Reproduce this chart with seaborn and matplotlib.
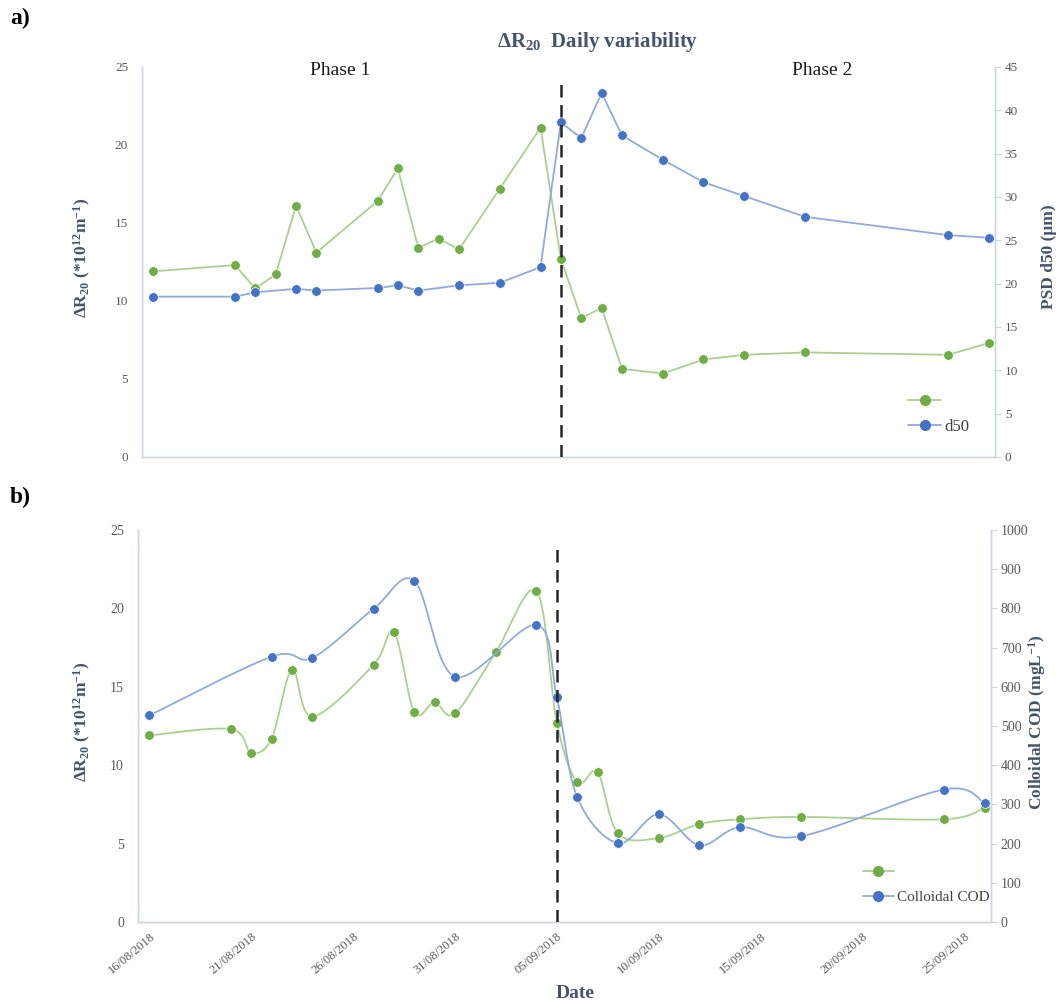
import numpy as np
import pandas as pd
import matplotlib
matplotlib.use("Agg")
import matplotlib.pyplot as plt
from matplotlib.lines import Line2D
import seaborn as sns

# ---------------------------------------------------------------- data
start_date = "2018-08-16"

r20_dates = ["2018-08-16", "2018-08-20", "2018-08-21", "2018-08-22", "2018-08-23",
             "2018-08-24", "2018-08-27", "2018-08-28", "2018-08-29", "2018-08-30",
             "2018-08-31", "2018-09-02", "2018-09-04", "2018-09-05", "2018-09-06",
             "2018-09-07", "2018-09-08", "2018-09-10", "2018-09-12", "2018-09-14",
             "2018-09-17", "2018-09-24", "2018-09-26"]
delta_r20 = [11.9, 12.3, 10.8, 11.7, 16.1, 13.1, 16.4, 18.5, 13.4, 14.0, 13.3, 17.2,
             21.1, 12.7, 8.9, 9.55, 5.65, 5.35, 6.25, 6.55, 6.7, 6.55, 7.3]

d50_dates = ["2018-08-16", "2018-08-20", "2018-08-21", "2018-08-23", "2018-08-24",
             "2018-08-27", "2018-08-28", "2018-08-29", "2018-08-31", "2018-09-02",
             "2018-09-04", "2018-09-05", "2018-09-06", "2018-09-07", "2018-09-08",
             "2018-09-10", "2018-09-12", "2018-09-14", "2018-09-17", "2018-09-24",
             "2018-09-26"]
d50 = [18.5, 18.5, 19.0, 19.4, 19.2, 19.5, 19.8, 19.2, 19.8, 20.1, 21.9,
       38.6, 36.8, 42.0, 37.1, 34.3, 31.7, 30.1, 27.7, 25.6, 25.3]

cod_dates = ["2018-08-16", "2018-08-22", "2018-08-24", "2018-08-27", "2018-08-29",
             "2018-08-31", "2018-09-04", "2018-09-05", "2018-09-06", "2018-09-08",
             "2018-09-10", "2018-09-12", "2018-09-14", "2018-09-17", "2018-09-24",
             "2018-09-26"]
colloidal_cod = [527, 677, 674, 799, 870, 626, 758, 573, 318, 201, 275, 196, 242,
                 219, 338, 303]

phase_change = "2018-09-05"
tick_dates = ["16/08/2018", "21/08/2018", "26/08/2018", "31/08/2018", "05/09/2018",
              "10/09/2018", "15/09/2018", "20/09/2018", "25/09/2018"]

# ---------------------------------------------------------------- helpers
t0 = pd.Timestamp(start_date)


def to_days(dates, fmt=None):
    return np.array([(pd.to_datetime(d, format=fmt) - t0).days for d in dates], float)


def smooth_curve(x, y, n=30):
    """Spreadsheet-style smoothed line: cubic Bezier segments through the points."""
    x = np.asarray(x, float)
    y = np.asarray(y, float)
    P = np.column_stack([x, y])
    P = np.vstack([P[0], P, P[-1]])
    t = np.linspace(0, 1, n)[:, None]
    out = []
    for i in range(1, len(P) - 2):
        p0, p1, p2, p3 = P[i - 1], P[i], P[i + 1], P[i + 2]
        c1 = p1 + (p2 - p0) / 6.0
        c2 = p2 - (p3 - p1) / 6.0
        seg = ((1 - t) ** 3) * p1 + 3 * ((1 - t) ** 2) * t * c1 + 3 * (1 - t) * t ** 2 * c2 + t ** 3 * p2
        out.append(seg if i == 1 else seg[1:])
    out = np.vstack(out)
    return out[:, 0], out[:, 1]


x_r20 = to_days(r20_dates)
x_d50 = to_days(d50_dates)
x_cod = to_days(cod_dates)
x_phase = to_days([phase_change])[0]
x_ticks = to_days(tick_dates, fmt="%d/%m/%Y")

# ---------------------------------------------------------------- style
sns.set_theme(style="white")
plt.rcParams["font.family"] = ["Liberation Serif", "DejaVu Serif"]
plt.rcParams["mathtext.fontset"] = "custom"
plt.rcParams["mathtext.rm"] = "Liberation Serif"
plt.rcParams["mathtext.it"] = "Liberation Serif:italic"
plt.rcParams["mathtext.bf"] = "Liberation Serif:bold"
plt.rcParams["mathtext.default"] = "regular"

GREEN = "#70AD47"
GREEN_LINE = "#A9D18E"
BLUE = "#4472C4"
BLUE_LINE = "#8FAADC"
SPINE = "#CDD5E0"
TICK = "#595959"
LABEL = "#44546A"

fig = plt.figure(figsize=(10.59, 10.07), dpi=100)
ax_a = fig.add_axes([0.1341, 0.5462, 0.8055, 0.3873])
ax_b = fig.add_axes([0.1303, 0.0844, 0.8055, 0.3893])
xlim = (-0.56, 41.31)


def style_axes(ax, ax2, ymax2, step2, size):
    ax.set_xlim(*xlim)
    ax.set_ylim(0, 25)
    ax.set_yticks(np.arange(0, 26, 5))
    ax2.set_ylim(0, ymax2)
    ax2.set_yticks(np.arange(0, ymax2 + 0.1, step2))
    for a in (ax, ax2):
        a.spines["top"].set_visible(False)
        for side in ("left", "right", "bottom"):
            a.spines[side].set_color(SPINE)
            a.spines[side].set_linewidth(1.0)
        a.grid(False)
    ax.tick_params(axis="y", length=0, pad=10, labelsize=size, labelcolor=TICK)
    ax2.tick_params(axis="y", length=4, width=0.8, color=SPINE, pad=3,
                    labelsize=size, labelcolor=TICK)
    ax.set_ylabel("")
    ax2.set_ylabel("")
    ax.set_xlabel("")


def draw_points(ax, x, y, color):
    sns.scatterplot(x=x, y=y, ax=ax, color=color, s=48, edgecolor="white",
                    linewidth=0.5, zorder=5, legend=False)


def legend_handles():
    return [Line2D([], [], color=GREEN_LINE, marker="o", markerfacecolor=GREEN,
                   markeredgecolor=GREEN, markersize=7, linewidth=1.3),
            Line2D([], [], color=BLUE_LINE, marker="o", markerfacecolor=BLUE,
                   markeredgecolor=BLUE, markersize=7, linewidth=1.3)]


# ---------------------------------------------------------------- panel a
ax_a2 = ax_a.twinx()
sns.lineplot(x=x_r20, y=delta_r20, ax=ax_a, color=GREEN_LINE, linewidth=1.3,
             estimator=None, sort=False, zorder=3)
draw_points(ax_a, x_r20, delta_r20, GREEN)
sns.lineplot(x=x_d50, y=d50, ax=ax_a2, color=BLUE_LINE, linewidth=1.3,
             estimator=None, sort=False, zorder=3)
draw_points(ax_a2, x_d50, d50, BLUE)
ax_a2.axvline(x_phase, ymin=0, ymax=0.96, color="#262626", linestyle=(0, (5, 3)),
              linewidth=1.8, zorder=6)
style_axes(ax_a, ax_a2, 45, 5, 9.5)
ax_a.set_xticks([])
ax_a2.set_xlim(*xlim)

ax_a.text(0.232, 0.99, "Phase 1", transform=ax_a.transAxes, ha="center", va="center",
          fontsize=14, color="#1a1a1a")
ax_a.text(0.797, 0.99, "Phase 2", transform=ax_a.transAxes, ha="center", va="center",
          fontsize=14, color="#1a1a1a")

ax_a2.legend(handles=legend_handles(), labels=["", "d50"], loc="center left",
             bbox_to_anchor=(0.898, 0.11), frameon=False, fontsize=12,
             handlelength=2.0, handletextpad=0.2, labelspacing=0.55, borderpad=0,
             borderaxespad=0, labelcolor="#404040")

# ---------------------------------------------------------------- panel b
ax_b2 = ax_b.twinx()
gx, gy = smooth_curve(x_r20, delta_r20)
sns.lineplot(x=gx, y=gy, ax=ax_b, color=GREEN_LINE, linewidth=1.3,
             estimator=None, sort=False, zorder=3)
draw_points(ax_b, x_r20, delta_r20, GREEN)
bx, by = smooth_curve(x_cod, colloidal_cod)
sns.lineplot(x=bx, y=by, ax=ax_b2, color=BLUE_LINE, linewidth=1.3,
             estimator=None, sort=False, zorder=3)
draw_points(ax_b2, x_cod, colloidal_cod, BLUE)
ax_b2.axvline(x_phase, ymin=0, ymax=0.957, color="#262626", linestyle=(0, (5, 3)),
              linewidth=1.8, zorder=6)
style_axes(ax_b, ax_b2, 1000, 100, 10)
ax_b2.set_xlim(*xlim)
ax_b.set_xticks(x_ticks)
ax_b.set_xticklabels(tick_dates, rotation=40, ha="right", rotation_mode="anchor")
ax_b.tick_params(axis="x", length=0, pad=6, labelsize=9, labelcolor=TICK)

ax_b2.legend(handles=legend_handles(), labels=["", "Colloidal COD"], loc="center left",
             bbox_to_anchor=(0.85, 0.094), frameon=False, fontsize=11,
             handlelength=2.0, handletextpad=0.2, labelspacing=0.7, borderpad=0,
             borderaxespad=0, labelcolor="#404040")

# ---------------------------------------------------------------- figure text
fig.text(0.564, 1 - 42 / 1007, r"$\Delta$R$_{20}$  Daily variability", ha="center",
         va="center", fontsize=15, fontweight="bold", color=LABEL)
fig.text(10 / 1059, 1 - 18 / 1007, "a)", ha="left", va="center", fontsize=17,
         fontweight="bold", color="black")
fig.text(10 / 1059, 1 - 497 / 1007, "b)", ha="left", va="center", fontsize=17,
         fontweight="bold", color="black")

ylab = r"$\Delta$R$_{20}$ (*10$^{12}$m$^{-1}$)"
fig.text(82 / 1059, 1 - 258 / 1007, ylab, rotation=90, ha="center", va="center",
         fontsize=12.5, fontweight="bold", color=LABEL)
fig.text(82 / 1059, 1 - 722 / 1007, ylab, rotation=90, ha="center", va="center",
         fontsize=12.5, fontweight="bold", color=LABEL)
fig.text(1049 / 1059, 1 - 257 / 1007, "PSD d50 (μm)", rotation=90, ha="center",
         va="center", fontsize=12.5, fontweight="bold", color=LABEL)
fig.text(1037 / 1059, 1 - 722 / 1007, "Colloidal COD (mgL$^{-1}$)", rotation=90,
         ha="center", va="center", fontsize=12.5, fontweight="bold", color=LABEL)
fig.text(575 / 1059, 1 - 993 / 1007, "Date", ha="center", va="center", fontsize=14,
         fontweight="bold", color=LABEL)

fig.savefig("out.png", dpi=100)
